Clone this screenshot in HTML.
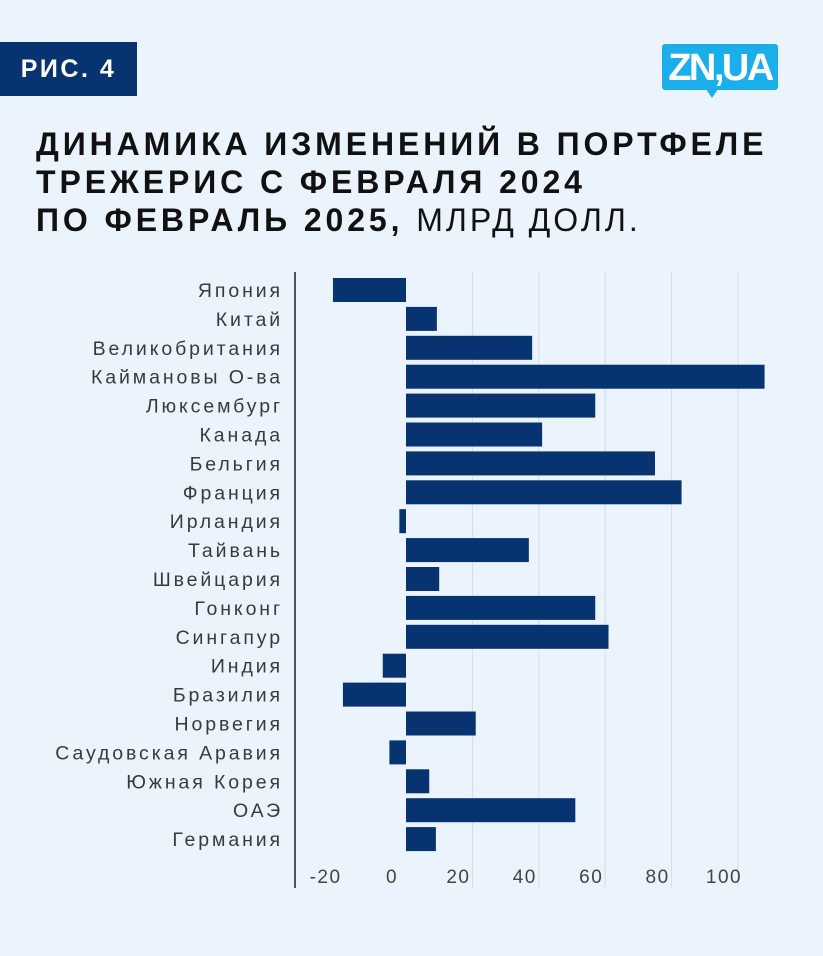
<!DOCTYPE html>
<html><head><meta charset="utf-8"><style>
body{margin:0;width:823px;height:956px;background:#ebf4fd;font-family:"Liberation Sans",sans-serif;position:relative;overflow:hidden}
.tag{position:absolute;left:0;top:42px;width:137px;height:54px;background:#073470;color:#fff;font-weight:bold;font-size:25px;line-height:54px;text-align:center;letter-spacing:2.5px}
.logo{position:absolute;left:662px;top:44px;width:116px;height:46px;background:#1aaeea;border-radius:3px;color:#fff;font-weight:bold;font-size:38px;line-height:48px;text-align:center;letter-spacing:-2.5px}
.logo:after{content:"";position:absolute;left:44px;bottom:-8px;border-left:6px solid transparent;border-right:6px solid transparent;border-top:9px solid #1aaeea}
h1{position:absolute;left:36px;top:125px;margin:0;font-size:32px;line-height:38px;color:#111;font-weight:bold;letter-spacing:3.9px;white-space:nowrap}
h1 span{font-weight:normal;letter-spacing:3px}
</style></head><body>
<div class="tag">РИС. 4</div>
<div class="logo">ZN,UA</div>
<h1>ДИНАМИКА ИЗМЕНЕНИЙ В ПОРТФЕЛЕ<br>ТРЕЖЕРИС С ФЕВРАЛЯ 2024<br>ПО ФЕВРАЛЬ 2025, <span>МЛРД ДОЛЛ.</span></h1>
<svg id="chart" width="823" height="956" style="position:absolute;left:0;top:0"></svg>
<script>
const categories=["Япония","Китай","Великобритания","Каймановы О-ва","Люксембург","Канада","Бельгия","Франция","Ирландия","Тайвань","Швейцария","Гонконг","Сингапур","Индия","Бразилия","Норвегия","Саудовская Аравия","Южная Корея","ОАЭ","Германия"];
const values=[-22,9.3,38,108,57,41,75,83,-2,37,10,57,61,-7,-19,21,-5,7,51,9];
const ticks=[-20,0,20,40,60,80,100];
const NS="http://www.w3.org/2000/svg";
const svg=document.getElementById("chart");
const x0=406,pxPer=66.4/20;
const x=v=>x0+v*pxPer;
const rowTop=290,rowStep=28.9,barH=24;
const y=i=>rowTop+i*rowStep;
function mk(t,a){const e=document.createElementNS(NS,t);for(const k in a)e.setAttribute(k,a[k]);svg.appendChild(e);return e;}
ticks.forEach(t=>{
  if(t!==0&&t!==-20){const g=mk("line",{x1:x(t),x2:x(t),y1:272,y2:888,stroke:"#d4dde8","stroke-width":1});
  
  }
  const l=mk("text",{x:x(t)-14,y:883,"text-anchor":"middle","font-size":19,fill:"#444","letter-spacing":"1.5","font-family":"Liberation Sans, sans-serif"});
  l.textContent=t;
  
  
});
const ax=mk("line",{x1:295,x2:295,y1:272,y2:888,stroke:"#555","stroke-width":2});


categories.forEach((c,i)=>{
  const v=values[i];
  const r=mk("rect",{x:Math.min(x(0),x(v)),y:y(i)-barH/2,width:Math.abs(x(v)-x(0)),height:barH,fill:"#073470"});
  
  
  const t=mk("text",{x:283,y:y(i)+7,"text-anchor":"end","font-size":19.5,fill:"#3a3a3a","letter-spacing":"2.9","font-family":"Liberation Sans, sans-serif"});
  t.textContent=c;
  
  
});
</script>
</body></html>
